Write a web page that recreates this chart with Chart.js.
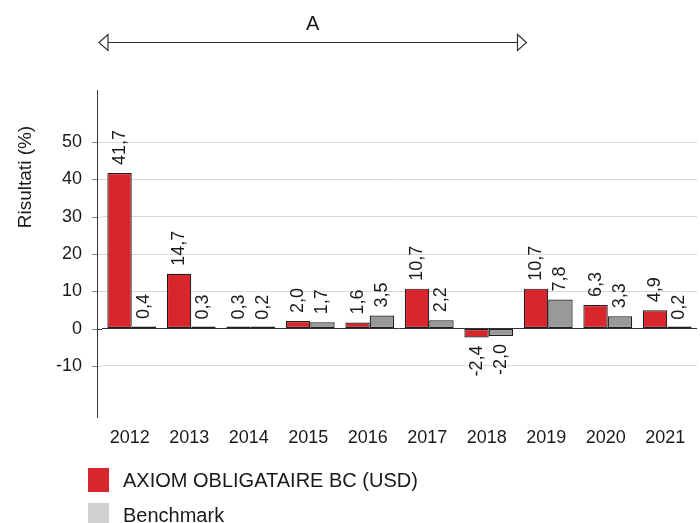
<!DOCTYPE html>
<html>
<head>
<meta charset="utf-8">
<script src="https://cdn.jsdelivr.net/npm/chart.js@4.4.0/dist/chart.umd.min.js"></script>
<style>
  body { margin: 0; background: #fff; }
  #wrap { position: relative; width: 700px; height: 523px; overflow: hidden; }
  .leg { position: absolute; left: 88px; display: flex; align-items: center;
         font-family: "Liberation Sans", Arial, sans-serif; font-size: 20px; color: #1a1a1a; }
  .leg span.box { display: inline-block; width: 21px; height: 24px; margin-right: 14px; }
</style>
</head>
<body>
<div id="wrap">
  <canvas id="chart" width="700" height="523"></canvas>
  <div class="leg" style="top:468px"><span class="box" style="background:#d7262c"></span>AXIOM OBLIGATAIRE BC (USD)</div>
  <div class="leg" style="top:503px"><span class="box" style="background:#d0d0d0"></span>Benchmark</div>
</div>
<script>
// data
var years = ['2012', '2013', '2014', '2015', '2016', '2017', '2018', '2019', '2020', '2021'];
var fundValues = [41.7, 14.7, 0.3, 2.0, 1.6, 10.7, -2.4, 10.7, 6.3, 4.9];
var benchValues = [0.4, 0.3, 0.2, 1.7, 3.5, 2.2, -2.0, 7.8, 3.3, 0.2];
var yTicks = [-10, 0, 10, 20, 30, 40, 50];
var fundName = 'AXIOM OBLIGATAIRE BC (USD)';
var benchName = 'Benchmark';
var yTitle = 'Risultati (%)';
var periodLabel = 'A';

var fontFam = '"Liberation Sans", Arial, sans-serif';
var axisX = 97;

//y axis line, tick marks and the grid stub left of the plot
var yAxisLine = {
    id: 'yAxisLine',
    beforeDatasetsDraw: function(chart) {
        var ctx = chart.ctx;
        var area = chart.chartArea;
        var ys = chart.scales.y;
        ctx.save();
        ctx.lineWidth = 1;
        yTicks.forEach(function(v) {
            var py = Math.round(ys.getPixelForValue(v)) + 0.5;
            ctx.strokeStyle = v === 0 ? '#333' : '#d9d9d9';
            ctx.beginPath();
            ctx.moveTo(axisX, py);
            ctx.lineTo(area.left, py);
            ctx.stroke();
            ctx.strokeStyle = '#888';
            ctx.beginPath();
            ctx.moveTo(axisX - 5, py);
            ctx.lineTo(axisX, py);
            ctx.stroke();
        });
        ctx.strokeStyle = '#333';
        ctx.beginPath();
        ctx.moveTo(axisX + 0.5, area.top);
        ctx.lineTo(axisX + 0.5, area.bottom);
        ctx.stroke();
        ctx.restore();
    }
};

//labels rotated above / below each bar
var barLabels = {
    id: 'barLabels',
    afterDatasetsDraw: function(chart) {
        var ctx = chart.ctx;
        ctx.save();
        ctx.font = '18px ' + fontFam;
        ctx.fillStyle = '#1a1a1a';
        ctx.textBaseline = 'middle';
        chart.data.datasets.forEach(function(ds, i) {
            chart.getDatasetMeta(i).data.forEach(function(bar, j) {
                var v = ds.data[j];
                var txt = v.toFixed(1).replace('.', ',');
                var ys = chart.scales.y;
                var end = ys.getPixelForValue(v);
                ctx.save();
                if (v >= 0) {
                    ctx.translate(bar.x, end - 8);
                    ctx.textAlign = 'left';
                } else {
                    ctx.translate(bar.x, end + 8);
                    ctx.textAlign = 'right';
                }
                ctx.rotate(-Math.PI / 2);
                ctx.fillText(txt, 0, 0);
                ctx.restore();
            });
        });
        ctx.restore();
    }
};

//period arrow + axis title
var extras = {
    id: 'extras',
    afterDraw: function(chart) {
        var ctx = chart.ctx;
        var xs = chart.scales.x;
        var step = xs.getPixelForValue(1) - xs.getPixelForValue(0);
        var x1 = axisX + 2;
        var x2 = xs.getPixelForValue(6) + step / 2 + 8;
        var y = 42.5;
        ctx.save();
        ctx.strokeStyle = '#333';
        ctx.lineWidth = 1.2;
        ctx.beginPath();
        ctx.moveTo(x1 + 9, y);
        ctx.lineTo(x2 - 9, y);
        ctx.stroke();
        //open heads
        ctx.beginPath();
        ctx.moveTo(x1 + 9, y - 8);
        ctx.lineTo(x1, y);
        ctx.lineTo(x1 + 9, y + 8);
        ctx.closePath();
        ctx.stroke();
        ctx.beginPath();
        ctx.moveTo(x2 - 9, y - 8);
        ctx.lineTo(x2, y);
        ctx.lineTo(x2 - 9, y + 8);
        ctx.closePath();
        ctx.stroke();
        ctx.fillStyle = '#1a1a1a';
        ctx.font = '20px ' + fontFam;
        ctx.textAlign = 'center';
        ctx.textBaseline = 'middle';
        ctx.fillText(periodLabel, (x1 + x2) / 2, 24);
        //y title
        ctx.translate(26, 177);
        ctx.rotate(-Math.PI / 2);
        ctx.font = '19px ' + fontFam;
        ctx.fillText(yTitle, 0, 0);
        ctx.restore();
    }
};

var c = document.getElementById('chart').getContext('2d');
var chart = new Chart(c, {
    type: 'bar',
    data: {
        labels: years,
        datasets: [{
            label: fundName,
            data: fundValues,
            backgroundColor: '#d7262c',
            borderColor: '#1e1e1e',
            borderWidth: 1.2,
            borderSkipped: false,
            minBarLength: 2
        }, {
            label: benchName,
            data: benchValues,
            backgroundColor: '#999999',
            borderColor: '#1e1e1e',
            borderWidth: 1.2,
            borderSkipped: false,
            minBarLength: 2
        }]
    },
    options: {
        responsive: false,
        animation: false,
        layout: { padding: { top: 90, right: 3, bottom: 70, left: 0 } },
        plugins: { legend: { display: false }, tooltip: { enabled: false } },
        datasets: { bar: { categoryPercentage: 0.82, barPercentage: 1 } },
        scales: {
            x: {
                grid: { display: false, drawTicks: false },
                border: { display: false },
                ticks: { color: '#1a1a1a', font: { family: fontFam, size: 18 }, padding: 9, maxRotation: 0, labelOffset: -2 },
                afterFit: function(s) { s.height = 35; }
            },
            y: {
                min: -24,
                max: 64,
                afterBuildTicks: function(s) { s.ticks = yTicks.map(function(v) { return { value: v }; }); },
                grid: {
                    color: function(ctx) { return ctx.tick && ctx.tick.value === 0 ? '#333' : '#d9d9d9'; },
                    drawTicks: false
                },
                border: { display: false },
                ticks: { color: '#1a1a1a', font: { family: fontFam, size: 18 }, padding: 20 },
                afterFit: function(s) { s.width = 102; }
            }
        }
    },
    plugins: [yAxisLine, barLabels, extras]
});
</script>
</body>
</html>
